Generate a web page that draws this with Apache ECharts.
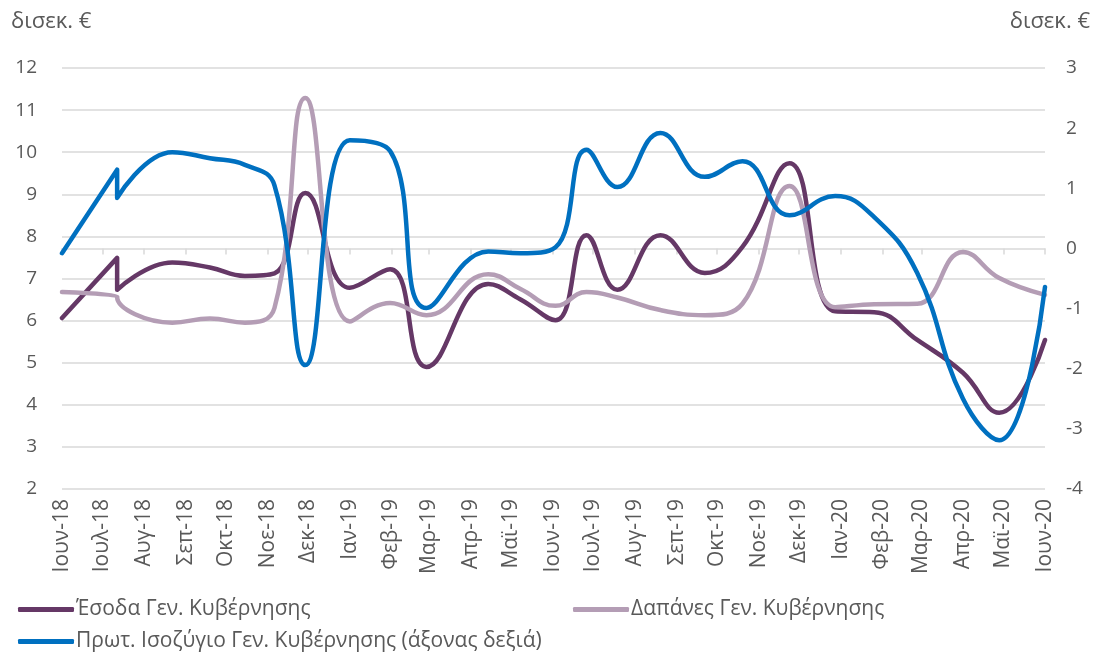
<!DOCTYPE html>
<html>
<head>
<meta charset="utf-8">
<script src="https://cdn.jsdelivr.net/npm/echarts@6/dist/echarts.min.js"></script>
<style>
  html, body { margin: 0; padding: 0; background: #ffffff; }
  #chart { width: 1094px; height: 653px; }
</style>
</head>
<body>
<div id="chart"></div>
<script>
// Month ticks on the date axis and their labels
const tickDates = [
  '2018-06-01','2018-07-01','2018-08-01','2018-09-01','2018-10-01','2018-11-01','2018-12-01',
  '2019-01-01','2019-02-01','2019-03-01','2019-04-01','2019-05-01','2019-06-01','2019-07-01',
  '2019-08-01','2019-09-01','2019-10-01','2019-11-01','2019-12-01','2020-01-01','2020-02-01',
  '2020-03-01','2020-04-01','2020-05-01','2020-06-01'
];
const tickLabels = [
  'Ιουν-18','Ιουλ-18','Αυγ-18','Σεπ-18','Οκτ-18','Νοε-18','Δεκ-18',
  'Ιαν-19','Φεβ-19','Μαρ-19','Απρ-19','Μαϊ-19','Ιουν-19','Ιουλ-19',
  'Αυγ-19','Σεπ-19','Οκτ-19','Νοε-19','Δεκ-19','Ιαν-20','Φεβ-20',
  'Μαρ-20','Απρ-20','Μαϊ-20','Ιουν-20'
];

// Observation dates shared by the three series
const pointDates = [
  '2018-06-01','2018-07-12','2018-07-12','2018-08-22','2018-09-19','2018-10-15','2018-11-06',
  '2018-11-29','2019-01-01','2019-01-31','2019-02-27','2019-04-14','2019-05-08','2019-06-03',
  '2019-06-26','2019-07-19','2019-08-20','2019-09-22','2019-10-20','2019-11-24','2019-12-28',
  '2020-01-26','2020-02-27','2020-04-01','2020-04-28','2020-06-01'
];

// General government revenue (bn €, left axis)
const revenue = [
  6.06, 7.49, 6.73, 7.38, 7.26, 7.06, 7.12,
  9.03, 6.78, 7.22, 4.90, 6.87, 6.50, 6.01,
  8.03, 6.73, 8.03, 7.13, 7.75, 9.74, 6.22,
  6.20, 5.54, 4.76, 3.81, 5.54
];

// General government expenditure (bn €, left axis)
const expenditure = [
  6.68, 6.58, 6.56, 5.95, 6.05, 5.95, 6.30,
  11.29, 5.98, 6.42, 6.13, 7.10, 6.75, 6.35,
  6.68, 6.55, 6.25, 6.13, 6.40, 9.20, 6.32,
  6.39, 6.40, 7.63, 7.01, 6.61
];

// General government primary balance (bn €, right axis)
const primaryBalance = [
  -0.08, 1.31, 0.84, 1.60, 1.50, 1.39, 1.05,
  -1.94, 1.80, 1.62, -0.99, -0.05, -0.08, 0.02,
  1.64, 1.02, 1.92, 1.19, 1.45, 0.55, 0.87,
  0.52, -0.41, -2.50, -3.19, -0.64
];

const leftTicks = { min: 2, max: 12, step: 1 };
const rightTicks = { min: -4, max: 3, step: 1 };

const seriesNames = [
  'Έσοδα Γεν. Κυβέρνησης',
  'Δαπάνες Γεν. Κυβέρνησης',
  'Πρωτ. Ισοζύγιο Γεν. Κυβέρνησης (άξονας δεξιά)'
];
const seriesColors = ['#653866', '#b49db5', '#0070c0'];

const FONT = '"Open Sans", "Noto Sans", sans-serif';
const TEXT = '#595959';
const GRID = '#d9d9d9';

// Dates are placed on a day-count axis starting at the first tick
const DAY = 86400000;
function dayNumber(s) {
  const p = s.split('-').map(Number);
  return Date.UTC(p[0], p[1] - 1, p[2]);
}
const origin = dayNumber(tickDates[0]);
function dayOffset(s) { return Math.round((dayNumber(s) - origin) / DAY); }
const tickDays = tickDates.map(dayOffset);

function pairs(values) {
  return pointDates.map((d, i) => [dayOffset(d), values[i]]);
}

function lineSeries(name, values, color, yAxisIndex) {
  return {
    name: name,
    type: 'line',
    yAxisIndex: yAxisIndex,
    data: pairs(values),
    smooth: 0.45,
    showSymbol: false,
    symbol: 'none',
    lineStyle: { color: color, width: 4.5, cap: 'round', join: 'round' },
    itemStyle: { color: color },
    z: yAxisIndex === 1 ? 4 : 3
  };
}

function legendAt(name, left, top) {
  return {
    data: [{ name: name, icon: 'roundRect' }],
    left: left,
    top: top,
    itemWidth: 56,
    itemHeight: 5,
    padding: 0,
    textStyle: { color: TEXT, fontFamily: FONT, fontSize: 21, padding: [0, 0, 0, -3] }
  };
}

const chart = echarts.init(document.getElementById('chart'), null, { renderer: 'canvas' });

chart.setOption({
  backgroundColor: '#ffffff',
  animation: false,
  grid: { left: 62, right: 49, top: 68, bottom: 164, containLabel: false },
  graphic: [
    { type: 'text', left: 11, top: 11, style: { text: 'δισεκ. €', fill: TEXT, font: '22px ' + FONT } },
    { type: 'text', right: 4, top: 11, style: { text: 'δισεκ. €', fill: TEXT, font: '22px ' + FONT } }
  ],
  legend: [
    legendAt(seriesNames[0], 18, 599),
    legendAt(seriesNames[1], 573, 599),
    legendAt(seriesNames[2], 18, 631)
  ],
  xAxis: {
    type: 'value',
    min: tickDays[0],
    max: tickDays[tickDays.length - 1],
    axisLine: { show: true, lineStyle: { color: GRID, width: 1.5 } },
    axisTick: { show: true, length: 6, lineStyle: { color: GRID, width: 1.5 }, customValues: tickDays },
    splitLine: { show: false },
    axisLabel: {
      customValues: tickDays,
      rotate: 90,
      margin: 10,
      color: TEXT,
      fontFamily: FONT,
      fontSize: 21,
      hideOverlap: false,
      showMinLabel: true,
      showMaxLabel: true,
      formatter: function (value) {
        const i = tickDays.indexOf(Math.round(value));
        return i >= 0 ? tickLabels[i] : '';
      }
    }
  },
  yAxis: [
    {
      type: 'value',
      min: leftTicks.min,
      max: leftTicks.max,
      interval: leftTicks.step,
      axisLine: { show: false },
      axisTick: { show: false },
      splitLine: { show: true, lineStyle: { color: GRID, width: 1.5 } },
      axisLabel: { color: TEXT, fontFamily: FONT, fontSize: 19, margin: 25 }
    },
    {
      type: 'value',
      min: rightTicks.min,
      max: rightTicks.max,
      interval: rightTicks.step,
      position: 'right',
      axisLine: { show: false },
      axisTick: { show: false },
      splitLine: { show: false },
      axisLabel: { color: TEXT, fontFamily: FONT, fontSize: 19, margin: 21 }
    }
  ],
  series: [
    lineSeries(seriesNames[0], revenue, seriesColors[0], 0),
    lineSeries(seriesNames[1], expenditure, seriesColors[1], 0),
    lineSeries(seriesNames[2], primaryBalance, seriesColors[2], 1)
  ]
});
</script>
</body>
</html>
